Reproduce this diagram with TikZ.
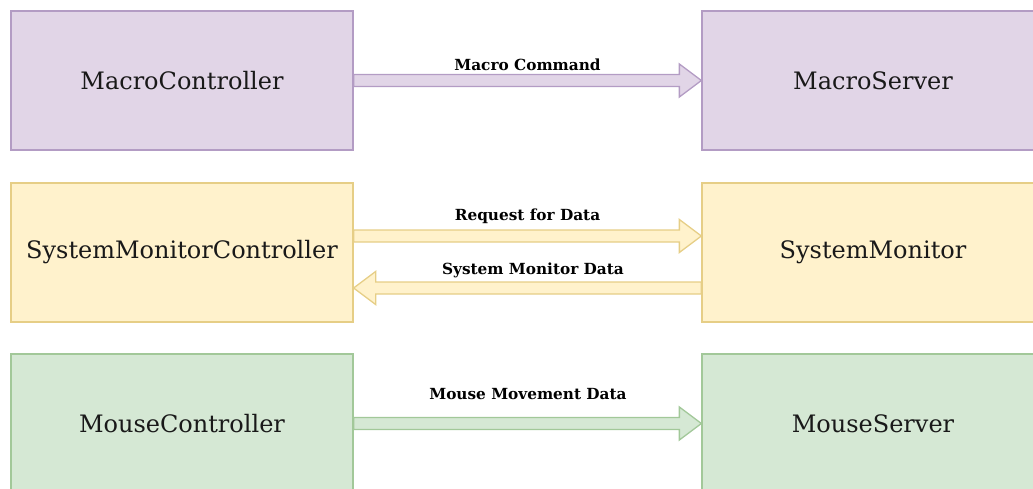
\documentclass[tikz,border=0pt]{standalone}
\usepackage{fontspec}
\setmainfont{DejaVu Serif}
\usetikzlibrary{calc}

\definecolor{macrofill}{HTML}{E1D5E7}
\definecolor{macroline}{HTML}{B39CC4}
\definecolor{sysfill}{HTML}{FFF2CC}
\definecolor{sysline}{HTML}{E6CE86}
\definecolor{mousefill}{HTML}{D5E8D4}
\definecolor{mouseline}{HTML}{A2C899}

\tikzset{
  box/.style 2 args={draw=#2, fill=#1, line width=1.3pt, minimum width=342pt,
    minimum height=139pt, inner sep=0pt, text=black!90,
    font=\fontsize{24}{28}\selectfont},
  lbl/.style={anchor=base, inner sep=0pt, font=\fontsize{15.3}{18}\selectfont\bfseries},
  flow/.style 2 args={draw=#2, fill=#1, line width=1.3pt,
    to path={let \p1=(\tikztostart), \p2=(\tikztotarget),
      \p3=($(\p2)!22pt!(\p1)$) in
      (\x1,\y1+6) -- (\x3,\y1+6) -- (\x3,\y1+16.5) -- (\x2,\y2)
      -- (\x3,\y1-16.5) -- (\x3,\y1-6) -- (\x1,\y1-6) -- cycle}},
}

\begin{document}
\begin{tikzpicture}[x=1pt,y=-1pt]
\useasboundingbox (0,0) rectangle (1033,488);
\clip (0,0) rectangle (1033,488);

% boxes
\node[box={macrofill}{macroline}] (mc) at (182,80.5) {MacroController};
\node[box={macrofill}{macroline}] (ms) at (873,80.5) {MacroServer};

\node[box={sysfill}{sysline}] (smc) at (182,252.5) {SystemMonitorController};
\node[box={sysfill}{sysline}] (sm)  at (873,252.5) {SystemMonitor};

\node[box={mousefill}{mouseline}] (moc) at (182,423.5) {MouseController};
\node[box={mousefill}{mouseline}] (mos) at (873,423.5) {MouseServer};

% arrows
\draw[flow={macrofill}{macroline}] (mc.east) to (ms.west);
\draw[flow={sysfill}{sysline}] ([yshift=16.5pt]smc.east) to ([yshift=16.5pt]sm.west);
\draw[flow={sysfill}{sysline}] ([yshift=-35.5pt]sm.west) to ([yshift=-35.5pt]smc.east);
\draw[flow={mousefill}{mouseline}] (moc.east) to (mos.west);

% labels
\node[lbl] (lmacro) at (527.5,70) {Macro Command};
\node[lbl] (lreq)   at (527.5,220) {Request for Data};
\node[lbl] (lsys)   at (533,274) {System Monitor Data};
\node[lbl] (lmouse) at (528,399) {Mouse Movement Data};

\end{tikzpicture}
\end{document}
